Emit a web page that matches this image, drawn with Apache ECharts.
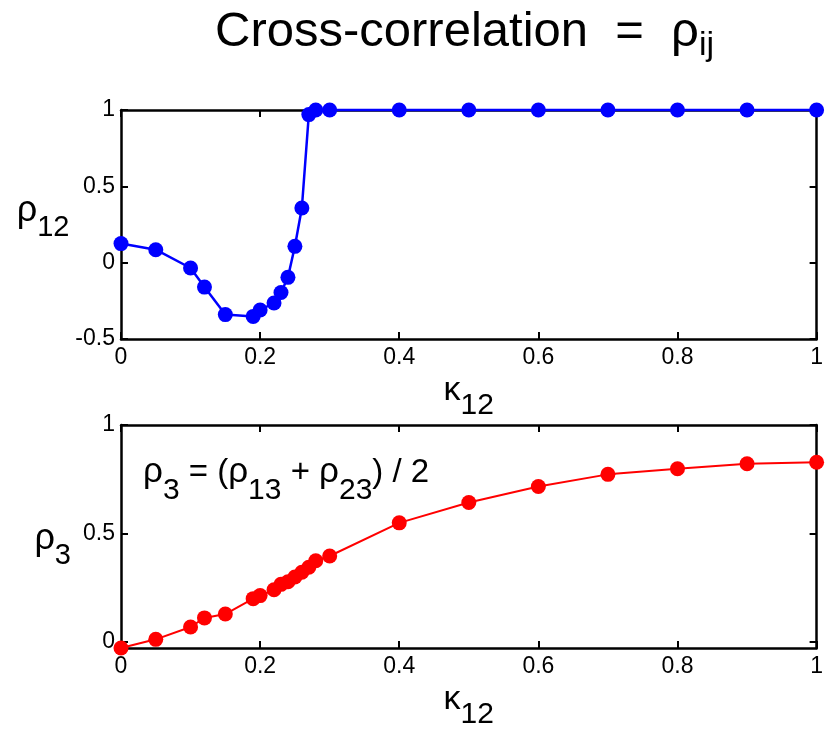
<!DOCTYPE html>
<html>
<head>
<meta charset="utf-8">
<script src="https://cdn.jsdelivr.net/npm/echarts@6/dist/echarts.min.js"></script>
<style>
html,body{margin:0;padding:0;background:#fff;}
#c{width:826px;height:731px;}
</style>
</head>
<body>
<div id="c"></div>
<script>
// ---- data ----
const kappa12 = [0, 0.05, 0.1, 0.12, 0.15, 0.19, 0.2, 0.22, 0.23, 0.24, 0.25, 0.26, 0.27, 0.28, 0.3, 0.4, 0.5, 0.6, 0.7, 0.8, 0.9, 1.0];
const rho12   = [0.125, 0.085, -0.035, -0.16, -0.34, -0.352, -0.31, -0.264, -0.195, -0.096, 0.107, 0.358, 0.97, 1.0, 1.0, 1.0, 1.0, 1.0, 1.0, 1.0, 1.0, 1.0];
const rho3    = [-0.03, 0.01, 0.067, 0.109, 0.127, 0.198, 0.212, 0.239, 0.264, 0.276, 0.298, 0.32, 0.343, 0.373, 0.395, 0.548, 0.642, 0.716, 0.772, 0.798, 0.821, 0.828];
const xTicks = [0, 0.2, 0.4, 0.6, 0.8, 1];
const yTicksTop = [-0.5, 0, 0.5, 1];
const yTicksBottom = [0, 0.5, 1];

const FONT = 'Liberation Sans, Arial, Helvetica, sans-serif';
const BLACK = '#000';
const axisLine = {show: true, onZero: false, lineStyle: {color: BLACK, width: 2.5}};
const tickIn = {show: true, inside: true, length: 7, lineStyle: {color: BLACK, width: 2}};
const labelStyle = {color: BLACK, fontSize: 23, fontFamily: FONT};

function xAx(grid, pos, show) {
  return {
    type: 'value', gridIndex: grid, position: pos, min: 0, max: 1, interval: 0.2,
    axisLine: axisLine,
    axisTick: Object.assign({}, tickIn, {customValues: xTicks}),
    axisLabel: Object.assign({show: show, margin: 7, customValues: xTicks, formatter: v => String(v)}, labelStyle),
    splitLine: {show: false},
    name: show ? '{g|κ}{s|12}' : '',
    nameLocation: 'middle', nameGap: 22,
    nameTextStyle: {
      color: BLACK, fontFamily: FONT,
      rich: {
        g: {fontSize: 34, fontFamily: FONT, color: BLACK},
        s: {fontSize: 30, fontFamily: FONT, color: BLACK, padding: [30, 0, 0, 0]}
      }
    }
  };
}
function yAx(grid, pos, show, min, max, ticks, sub, gap, drop, lift) {
  return {
    type: 'value', gridIndex: grid, position: pos, min: min, max: max,
    axisLine: axisLine,
    axisTick: Object.assign({}, tickIn, {customValues: ticks}),
    axisLabel: Object.assign({show: show, margin: 6, customValues: ticks, formatter: v => String(v)}, labelStyle),
    splitLine: {show: false},
    name: show ? '{g|ρ}{s|' + sub + '}' : '',
    nameLocation: 'middle', nameGap: gap || 40, nameRotate: 0,
    nameTextStyle: {
      color: BLACK, fontFamily: FONT,
      padding: [drop || 0, 0, lift || 0, 0],
      rich: {
        g: {fontSize: 36, fontFamily: FONT, color: BLACK},
        s: {fontSize: 29, fontFamily: FONT, color: BLACK, padding: [32, 0, 0, 0]}
      }
    }
  };
}

const chart = echarts.init(document.getElementById('c'), null, {renderer: 'canvas'});
chart.setOption({
  animation: false,
  backgroundColor: '#fff',
  title: {
    text: '{a|Cross-correlation  =  ρ}{s|ij}',
    left: 210, top: -4,
    textStyle: {
      fontWeight: 'normal',
      rich: {
        a: {fontSize: 49, fontFamily: FONT, color: BLACK, fontWeight: 'normal'},
        s: {fontSize: 34, fontFamily: FONT, color: BLACK, fontWeight: 'normal', padding: [28, 0, 0, 0]}
      }
    }
  },
  grid: [
    {left: 121, top: 110, width: 696, height: 229},
    {left: 121, top: 425, width: 696, height: 230}
  ],
  xAxis: [
    xAx(0, 'bottom', true),
    xAx(0, 'top', false),
    xAx(1, 'bottom', true),
    xAx(1, 'top', false)
  ],
  yAxis: [
    Object.assign(yAx(0, 'left', true, -0.5, 1, yTicksTop, '12', 36, 0, 26), {interval: 0.5}),
    Object.assign(yAx(0, 'right', false, -0.5, 1, yTicksTop, ''), {interval: 0.5}),
    yAx(1, 'left', true, -0.03, 1, yTicksBottom, '3', 50, 6, 0),
    yAx(1, 'right', false, -0.03, 1, yTicksBottom, '')
  ],
  graphic: [{
    type: 'text', left: 143, top: 455,
    style: {
      text: '{g|ρ}{s|3}{t| = (}{g|ρ}{s|13}{t| + }{g|ρ}{s|23}{t|) / 2}',
      rich: {
        g: {fontSize: 35, fontFamily: FONT, fill: BLACK, color: BLACK},
        t: {fontSize: 33, fontFamily: FONT, fill: BLACK, color: BLACK},
        s: {fontSize: 30, fontFamily: FONT, fill: BLACK, color: BLACK, padding: [36, 0, 0, 0]}
      }
    }
  }],
  series: [
    {
      type: 'line', xAxisIndex: 0, yAxisIndex: 0, clip: false,
      data: kappa12.map((k, i) => [k, rho12[i]]),
      symbol: 'circle', symbolSize: 15,
      lineStyle: {color: '#0000ff', width: 2.5},
      itemStyle: {color: '#0000ff'}
    },
    {
      type: 'line', xAxisIndex: 2, yAxisIndex: 2, clip: false,
      data: kappa12.map((k, i) => [k, rho3[i]]),
      symbol: 'circle', symbolSize: 15,
      lineStyle: {color: '#ff0000', width: 2},
      itemStyle: {color: '#ff0000'}
    }
  ]
});
</script>
</body>
</html>
